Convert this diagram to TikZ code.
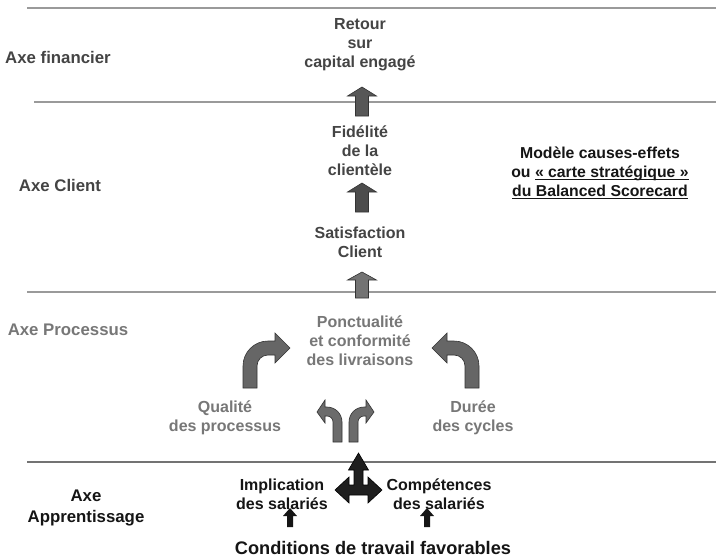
\documentclass[tikz,border=0pt]{standalone}
\usepackage{fontspec}
\setmainfont{Liberation Sans}
\definecolor{dk}{HTML}{444444}
\definecolor{md}{HTML}{777777}
\definecolor{bk}{HTML}{151515}
\definecolor{rule}{HTML}{9A9A9A}
\newcommand\myul[1]{\setbox0\hbox{#1}\rlap{\rule[-2.6pt]{\wd0}{1.1pt}}\box0}
\begin{document}
\begin{tikzpicture}[x=1pt,y=-1pt,
  lbl/.style={font=\bfseries\fontsize{16}{19}\selectfont, align=center, inner sep=0pt},
  axe/.style={font=\bfseries\fontsize{16.8}{22}\selectfont, align=center, inner sep=0pt},
  sepline/.style={draw=rule, line width=1.1pt},
  blk/.style={draw=black!80, line width=0.6pt, line join=miter}]
\useasboundingbox (0,0) rectangle (716,560);
\fill[white] (0,0) rectangle (716,560);

% separators
\draw[sepline] (27,8) -- (716,8);
\draw[sepline] (34,102) -- (716,102);
\draw[sepline] (27,292) -- (716,292);
\draw[sepline, draw=black!55] (27,462) -- (716,462);

% axis labels
\node[axe, text=dk] (af) at (58,57) {Axe financier};
\node[axe, text=dk] (ac) at (60,185) {Axe Client};
\node[axe, text=md] (ap) at (68,330) {Axe Processus};
\node[axe, text=bk, font=\bfseries\fontsize{16.8}{21}\selectfont] (aa) at (86,508) {Axe\\Apprentissage};

% central column texts
\node[lbl, text=dk] (ret) at (360,45) {Retour\\sur\\capital engagé};
\node[lbl, text=dk] (fid) at (360,151) {Fidélité\\de la\\clientèle};
\node[lbl, text=dk] (sat) at (360,242) {Satisfaction\\Client};
\node[lbl, text=md] (pon) at (360,341) {Ponctualité\\et conformité\\des livraisons};
\node[lbl, text=md] (qua) at (225,417.5) {Qualité\\des processus};
\node[lbl, text=md] (dur) at (473,417.5) {Durée\\des cycles};
\node[lbl, text=bk] (imp) at (282,494) {Implication\\des salariés};
\node[lbl, text=bk] (com) at (439,494) {Compétences\\des salariés};
\node[lbl, text=bk, font=\bfseries\fontsize{18.2}{21}\selectfont] (cond) at (373,548) {Conditions de travail favorables};

% right caption
\node[lbl, text=bk, font=\bfseries\fontsize{15.8}{18.6}\selectfont] (cap) at (600,173)
  {Modèle causes-effets\\ou \myul{«~carte stratégique~»}\\\myul{du Balanced Scorecard}};

% straight block arrows
\fill[blk, fill=black!66] (362,87) -- (376.5,96) -- (368.5,96) -- (368.5,116) -- (355.5,116) -- (355.5,96) -- (347.5,96) -- cycle;
\fill[blk, fill=black!70] (362,183) -- (376.5,192) -- (368.5,192) -- (368.5,212) -- (355.5,212) -- (355.5,192) -- (347.5,192) -- cycle;
\fill[blk, fill=black!55] (362,272) -- (376.5,280) -- (368.5,280) -- (368.5,298) -- (355.5,298) -- (355.5,280) -- (347.5,280) -- cycle;

% large bent arrows
\fill[blk, fill=black!60] (243,388) -- (243,366) .. controls (243,352.2) and (254.2,341) .. (268,341) -- (275,341) -- (275,333) -- (290,348) -- (275,363) -- (275,355) -- (268,355) .. controls (261.9,355) and (257,359.9) .. (257,366) -- (257,388) -- cycle;
\fill[blk, fill=black!60] (479,388) -- (479,366) .. controls (479,352.2) and (467.8,341) .. (454,341) -- (447,341) -- (447,333) -- (432,348) -- (447,363) -- (447,355) -- (454,355) .. controls (460.1,355) and (465,359.9) .. (465,366) -- (465,388) -- cycle;

% small bent arrows
\fill[blk, fill=black!58] (342,442) -- (342,422) .. controls (342,413.7) and (335.3,407) .. (327,407) -- (325,407) -- (325,400) -- (317,412) -- (325,423) -- (325,416) -- (327,416) .. controls (330.3,416) and (333,418.7) .. (333,422) -- (333,442) -- cycle;
\fill[blk, fill=black!58] (349,442) -- (349,422) .. controls (349,413.7) and (355.7,407) .. (364,407) -- (366,407) -- (366,400) -- (374,412) -- (366,423) -- (366,416) -- (364,416) .. controls (360.7,416) and (358,418.7) .. (358,422) -- (358,442) -- cycle;

% three-way black arrow
\fill[blk, fill=black!88, draw=black] (358.5,453) -- (368.5,470) -- (363,470) -- (363,485) -- (368,485) -- (368,477) -- (382,490) -- (368,503) -- (368,495) -- (349,495) -- (349,503) -- (335,490) -- (349,477) -- (349,485) -- (354,485) -- (354,470) -- (348.5,470) -- cycle;

% small black up arrows
\fill[bk] (290,508) -- (297,516) -- (293,516) -- (293,527) -- (287,527) -- (287,516) -- (283,516) -- cycle;
\fill[bk] (427,508) -- (434,516) -- (430,516) -- (430,527) -- (424,527) -- (424,516) -- (420,516) -- cycle;
\end{tikzpicture}
\end{document}
